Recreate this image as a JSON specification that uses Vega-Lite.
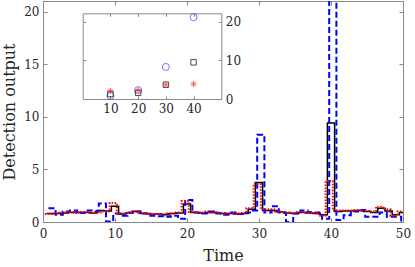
{
  "$schema": "https://vega.github.io/schema/vega-lite/v6.json",
  "width": 360,
  "height": 221,
  "autosize": "none",
  "padding": {"left": 43, "top": 1, "right": 12, "bottom": 45},
  "background": "white",
  "config": {
    "view": {"stroke": "#8a8a8a", "strokeWidth": 1},
    "axis": {"grid": false, "labelFlush": false, "domainColor": "#8a8a8a", "tickColor": "#8a8a8a", "labelFont": "DejaVu Serif", "labelFontSize": 12, "labelColor": "#262626", "titleFont": "DejaVu Serif", "titleFontSize": 16, "titleFontWeight": "normal", "titleColor": "#262626"}
  },
  "datasets": {
    "black": [{"x":0.5,"y":0.8},{"x":1.5,"y":0.8},{"x":2.5,"y":0.85},{"x":3.5,"y":0.9},{"x":4.5,"y":0.9},{"x":5.5,"y":0.9},{"x":6.5,"y":0.85},{"x":7.5,"y":1.1},{"x":8.5,"y":1.05},{"x":9.5,"y":1.5},{"x":10.5,"y":0.75},{"x":11.5,"y":0.85},{"x":12.5,"y":1.0},{"x":13.5,"y":0.8},{"x":14.5,"y":0.75},{"x":15.5,"y":0.75},{"x":16.5,"y":0.7},{"x":17.5,"y":0.8},{"x":18.5,"y":0.85},{"x":19.5,"y":1.7},{"x":20.5,"y":0.9},{"x":21.5,"y":0.85},{"x":22.5,"y":0.9},{"x":23.5,"y":0.9},{"x":24.5,"y":0.8},{"x":25.5,"y":0.8},{"x":26.5,"y":0.75},{"x":27.5,"y":0.8},{"x":28.5,"y":1.2},{"x":29.5,"y":3.75},{"x":30.5,"y":1.1},{"x":31.5,"y":1.1},{"x":32.5,"y":0.95},{"x":33.5,"y":0.85},{"x":34.5,"y":0.8},{"x":35.5,"y":0.9},{"x":36.5,"y":0.85},{"x":37.5,"y":0.8},{"x":38.5,"y":0.7},{"x":39.5,"y":9.4},{"x":40.5,"y":1.0},{"x":41.5,"y":1.05},{"x":42.5,"y":1.05},{"x":43.5,"y":1.1},{"x":44.5,"y":1.0},{"x":45.5,"y":0.9},{"x":46.5,"y":1.3},{"x":47.5,"y":1.05},{"x":48.5,"y":0.7},{"x":49.5,"y":0.9},{"x":50,"y":0.9}],
    "blue": [{"x":0.75,"y":1.3},{"x":1.75,"y":0.7},{"x":2.75,"y":1.0},{"x":3.75,"y":1.1},{"x":4.75,"y":0.85},{"x":5.75,"y":1.1},{"x":6.75,"y":1.0},{"x":7.75,"y":1.75},{"x":8.75,"y":0.05},{"x":9.75,"y":0.8},{"x":10.75,"y":0.6},{"x":11.75,"y":0.9},{"x":12.75,"y":1.0},{"x":13.75,"y":0.8},{"x":14.75,"y":0.6},{"x":15.75,"y":0.55},{"x":16.75,"y":0.5},{"x":17.75,"y":0.6},{"x":18.75,"y":0.3},{"x":19.75,"y":2.1},{"x":20.75,"y":0.9},{"x":21.75,"y":0.8},{"x":22.75,"y":1.0},{"x":23.75,"y":0.8},{"x":24.75,"y":0.7},{"x":25.75,"y":0.9},{"x":26.75,"y":0.75},{"x":27.75,"y":0.9},{"x":28.75,"y":1.1},{"x":29.75,"y":8.3},{"x":30.75,"y":0.9},{"x":31.75,"y":1.5},{"x":32.75,"y":0.9},{"x":33.75,"y":0.0},{"x":34.75,"y":0.8},{"x":35.75,"y":1.1},{"x":36.75,"y":0.95},{"x":37.75,"y":0.9},{"x":38.75,"y":0.3},{"x":39.75,"y":21.2},{"x":40.75,"y":0.2},{"x":41.75,"y":0.65},{"x":42.75,"y":1.0},{"x":43.75,"y":1.15},{"x":44.75,"y":0.5},{"x":45.75,"y":0.5},{"x":46.75,"y":0.9},{"x":47.75,"y":0.5},{"x":48.75,"y":0.5},{"x":49.75,"y":0.05},{"x":50,"y":0.05}],
    "red": [{"x":0.25,"y":0.75},{"x":1.25,"y":0.8},{"x":2.25,"y":0.9},{"x":3.25,"y":0.95},{"x":4.25,"y":0.9},{"x":5.25,"y":0.95},{"x":6.25,"y":0.85},{"x":7.25,"y":0.9},{"x":8.25,"y":1.0},{"x":9.25,"y":1.8},{"x":10.25,"y":0.8},{"x":11.25,"y":0.85},{"x":12.25,"y":1.05},{"x":13.25,"y":0.85},{"x":14.25,"y":0.8},{"x":15.25,"y":0.75},{"x":16.25,"y":0.75},{"x":17.25,"y":0.8},{"x":18.25,"y":0.9},{"x":19.25,"y":2.0},{"x":20.25,"y":0.95},{"x":21.25,"y":0.9},{"x":22.25,"y":1.0},{"x":23.25,"y":0.9},{"x":24.25,"y":0.85},{"x":25.25,"y":0.8},{"x":26.25,"y":0.8},{"x":27.25,"y":0.85},{"x":28.25,"y":1.3},{"x":29.25,"y":3.6},{"x":30.25,"y":1.2},{"x":31.25,"y":1.2},{"x":32.25,"y":1.0},{"x":33.25,"y":0.9},{"x":34.25,"y":0.85},{"x":35.25,"y":0.95},{"x":36.25,"y":0.9},{"x":37.25,"y":0.85},{"x":38.25,"y":0.6},{"x":39.25,"y":3.9},{"x":40.25,"y":1.1},{"x":41.25,"y":1.1},{"x":42.25,"y":1.1},{"x":43.25,"y":1.15},{"x":44.25,"y":1.05},{"x":45.25,"y":1.0},{"x":46.25,"y":1.45},{"x":47.25,"y":1.2},{"x":48.25,"y":0.6},{"x":49.25,"y":1.0},{"x":50,"y":1.0}],
    "circles": [{"t":10,"v":0.8},{"t":20,"v":2.3},{"t":30,"v":8.3},{"t":40,"v":21.2}],
    "squares": [{"t":10,"v":1.3},{"t":20,"v":1.6},{"t":30,"v":3.7},{"t":40,"v":9.5}],
    "stars": [{"t":10,"v":2.1},{"t":20,"v":2.2},{"t":30,"v":3.7},{"t":40,"v":3.9}]
  },
  "layer": [
    {
      "data": {"name": "black"},
      "mark": {"type": "line", "interpolate": "step-after", "color": "black", "strokeWidth": 1.5, "clip": true},
      "encoding": {
        "x": {"field": "x", "type": "quantitative", "scale": {"domain": [0, 50], "nice": false},
              "axis": {"orient": "bottom", "values": [0, 10, 20, 30, 40, 50], "tickSize": -4, "labelPadding": 10, "title": "Time", "titlePadding": 8}},
        "y": {"field": "y", "type": "quantitative", "scale": {"domain": [0, 21], "nice": false},
              "axis": {"orient": "left", "values": [0, 5, 10, 15, 20], "tickSize": -4, "labelPadding": 8, "title": "Detection output", "titlePadding": 6}}
      }
    },
    {
      "data": {"name": "blue"},
      "mark": {"type": "line", "interpolate": "step-after", "color": "#0000ff", "strokeWidth": 2, "strokeDash": [6, 3], "clip": true},
      "encoding": {
        "x": {"field": "x", "type": "quantitative", "scale": {"domain": [0, 50], "nice": false},
              "axis": {"orient": "top", "values": [0, 10, 20, 30, 40, 50], "tickSize": -4, "labels": false, "title": null}},
        "y": {"field": "y", "type": "quantitative", "scale": {"domain": [0, 21], "nice": false},
              "axis": {"orient": "right", "values": [0, 5, 10, 15, 20], "tickSize": -4, "labels": false, "title": null}}
      }
    },
    {
      "data": {"name": "red"},
      "mark": {"type": "line", "interpolate": "step-after", "color": "#ff0000", "strokeWidth": 2, "strokeDash": [1.5, 1.5], "clip": true},
      "encoding": {
        "x": {"field": "x", "type": "quantitative", "scale": {"domain": [0, 50], "nice": false}, "axis": null},
        "y": {"field": "y", "type": "quantitative", "scale": {"domain": [0, 21], "nice": false}, "axis": null}
      }
    },
    {
      "data": {"name": "circles"},
      "mark": {"type": "point", "shape": "circle", "filled": false, "color": "#3a3aff", "size": 50, "strokeWidth": 1},
      "encoding": {
        "x": {"field": "t", "type": "quantitative", "scale": {"domain": [0, 50], "nice": false, "range": [39.7, 178.3]},
              "axis": {"orient": "bottom", "offset": -123, "values": [10, 20, 30, 40], "tickSize": -3, "labelPadding": 7, "title": null}},
        "y": {"field": "v", "type": "quantitative", "scale": {"domain": [0, 22.2], "nice": false, "range": [98, 12.3]},
              "axis": {"orient": "right", "offset": -181.7, "values": [0, 10, 20], "tickSize": -3, "labelPadding": 7, "title": null}}
      }
    },
    {
      "data": {"name": "squares"},
      "mark": {"type": "point", "shape": "square", "filled": false, "color": "black", "size": 30, "strokeWidth": 1},
      "encoding": {
        "x": {"field": "t", "type": "quantitative", "scale": {"domain": [0, 50], "nice": false, "range": [39.7, 178.3]},
              "axis": {"orient": "top", "offset": -12.3, "values": [10, 20, 30, 40], "tickSize": -3, "labels": false, "title": null}},
        "y": {"field": "v", "type": "quantitative", "scale": {"domain": [0, 22.2], "nice": false, "range": [98, 12.3]},
              "axis": {"orient": "left", "offset": -39.7, "values": [0, 10, 20], "tickSize": -3, "labels": false, "title": null}}
      }
    },
    {
      "data": {"name": "stars"},
      "mark": {"type": "point", "shape": "M-1,0L1,0M0,-1L0,1M-0.7,-0.7L0.7,0.7M-0.7,0.7L0.7,-0.7", "filled": false, "color": "#ff2020", "size": 40, "strokeWidth": 1},
      "encoding": {
        "x": {"field": "t", "type": "quantitative", "scale": {"domain": [0, 50], "nice": false, "range": [39.7, 178.3]}, "axis": null},
        "y": {"field": "v", "type": "quantitative", "scale": {"domain": [0, 22.2], "nice": false, "range": [98, 12.3]}, "axis": null}
      }
    }
  ],
  "resolve": {"scale": {"x": "independent", "y": "independent"}, "axis": {"x": "independent", "y": "independent"}}
}
